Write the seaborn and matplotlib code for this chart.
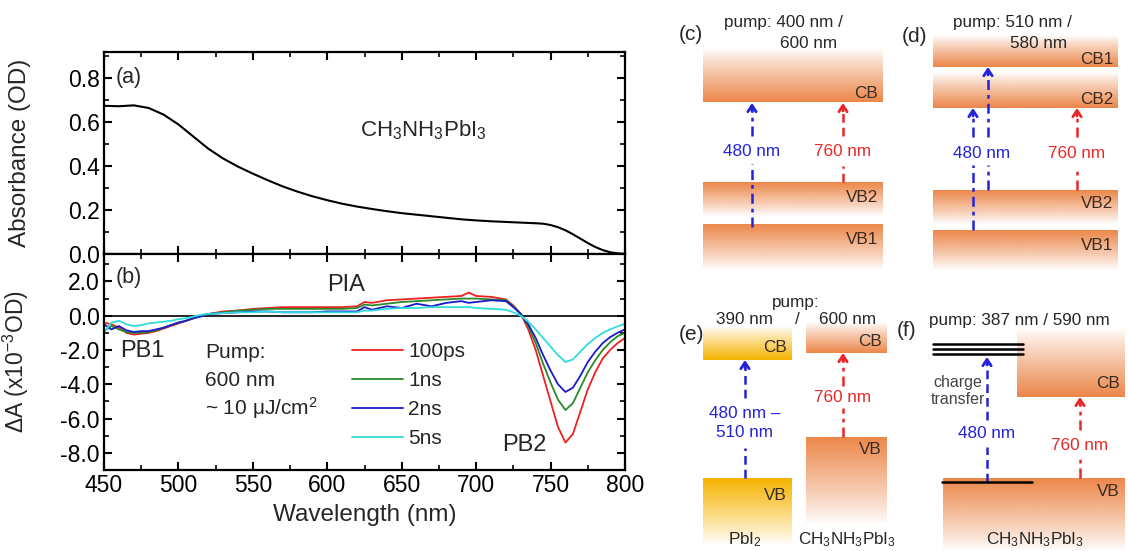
import numpy as np
import pandas as pd
import seaborn as sns
import matplotlib.pyplot as plt
import matplotlib.colors as mcolors
from matplotlib.ticker import MultipleLocator, FormatStrFormatter

sns.set_style('ticks')
plt.rcParams['font.family'] = ['Liberation Sans', 'DejaVu Sans']
plt.rcParams['mathtext.fontset'] = 'custom'
plt.rcParams['mathtext.rm'] = 'Liberation Sans'
plt.rcParams['mathtext.it'] = 'Liberation Sans:italic'
plt.rcParams['axes.unicode_minus'] = False

# (a) steady-state absorbance
wl_abs = [450, 460, 470, 480, 490, 500, 510, 520, 530, 540, 550, 560, 570, 580, 590,
          600, 610, 620, 630, 640, 650, 660, 670, 680, 690, 700, 710, 720, 730, 740,
          745, 750, 755, 760, 765, 770, 775, 780, 785, 790, 795, 800]
absorb = [0.675, 0.673, 0.677, 0.665, 0.635, 0.59, 0.535, 0.48, 0.435, 0.398,
          0.366, 0.336, 0.308, 0.284, 0.263, 0.245, 0.229, 0.216, 0.205, 0.195,
          0.186, 0.179, 0.172, 0.165, 0.158, 0.153, 0.149, 0.146, 0.143, 0.14,
          0.138, 0.132, 0.122, 0.108, 0.09, 0.07, 0.05, 0.032, 0.018, 0.008, 0.003, 0.0]

# (b) transient absorption, x10^-3 OD
wl = [450, 455, 460, 465, 470, 475, 480, 485, 490, 495, 500, 505, 510, 515, 520,
      530, 540, 550, 560, 570, 580, 590, 600, 610, 620, 625, 630,
      640, 650, 660, 670, 680, 690, 695, 700, 710, 720,
      725, 730, 735, 740, 745, 750, 755, 760, 765, 770, 775, 780, 785, 790, 795, 800]
ta_100ps = [-0.4, -0.5, -0.7, -1.0, -1.1, -1.05, -1.0, -0.9, -0.75, -0.6, -0.45, -0.3, -0.15, 0.0, 0.1,
            0.25, 0.3, 0.4, 0.45, 0.5, 0.5, 0.5, 0.5, 0.5, 0.55, 0.8, 0.75,
            0.9, 0.95, 1.0, 1.05, 1.1, 1.15, 1.35, 1.15, 1.1, 0.95,
            0.6, 0.1, -0.8, -2.0, -3.5, -5.0, -6.5, -7.4, -6.9, -5.6, -4.3, -3.3, -2.5, -2.0, -1.6, -1.3]
ta_1ns = [-0.9, -0.6, -0.8, -0.95, -1.0, -1.0, -0.95, -0.85, -0.7, -0.55, -0.4, -0.3, -0.15, 0.0, 0.1,
          0.2, 0.3, 0.35, 0.4, 0.4, 0.4, 0.4, 0.4, 0.4, 0.45, 0.65, 0.6,
          0.7, 0.8, 0.85, 0.9, 0.95, 1.0, 1.0, 1.0, 0.95, 0.9,
          0.55, 0.1, -0.6, -1.6, -2.8, -3.9, -4.9, -5.5, -5.1, -4.2, -3.3, -2.6, -2.0, -1.55, -1.2, -1.0]
ta_2ns = [-0.5, -0.8, -0.6, -0.85, -0.95, -0.9, -0.9, -0.8, -0.7, -0.55, -0.4, -0.3, -0.15, -0.05, 0.1,
          0.15, 0.2, 0.25, 0.25, 0.2, 0.2, 0.2, 0.25, 0.25, 0.25, 0.5, 0.35,
          0.55, 0.45, 0.7, 0.55, 0.75, 0.85, 0.75, 0.8, 0.9, 0.85,
          0.5, 0.1, -0.5, -1.3, -2.3, -3.2, -4.0, -4.45, -4.2, -3.5, -2.7, -2.1, -1.6, -1.25, -1.0, -0.8]
ta_5ns = [-1.0, -0.4, -0.3, -0.5, -0.6, -0.55, -0.45, -0.4, -0.35, -0.3, -0.2, -0.15, -0.05, 0.05, 0.1,
          0.15, 0.2, 0.2, 0.25, 0.2, 0.2, 0.2, 0.2, 0.2, 0.2, 0.3, 0.3,
          0.4, 0.45, 0.45, 0.5, 0.5, 0.5, 0.5, 0.45, 0.4, 0.35,
          0.2, 0.0, -0.35, -0.8, -1.3, -1.8, -2.3, -2.7, -2.55, -2.1, -1.65, -1.3, -1.0, -0.8, -0.62, -0.47]
delays = ['100ps', '1ns', '2ns', '5ns']
delay_colors = ['#ee2020', '#2a8a2a', '#1a1acc', '#30dcdc']

df = pd.DataFrame({
    'wl': wl * 4,
    'dA': ta_100ps + ta_1ns + ta_2ns + ta_5ns,
    'delay': [d for d in delays for _ in wl],
})

W, H = 1128, 551
fig = plt.figure(figsize=(W / 100, H / 100), dpi=100)

def frame(x0, y0, x1, y1):
    # pixel box -> figure fraction rect
    return [x0 / W, 1 - y1 / H, (x1 - x0) / W, (y1 - y0) / H]

ax_a = fig.add_axes(frame(104, 52, 625, 254))
ax_b = fig.add_axes(frame(104, 254, 625, 470), sharex=ax_a)

sns.lineplot(x=wl_abs, y=absorb, ax=ax_a, color='k', lw=1.5)
ax_b.axhline(0, color='k', lw=1.2, zorder=1)
sns.lineplot(data=df, x='wl', y='dA', hue='delay', hue_order=delays,
             palette=dict(zip(delays, delay_colors)), ax=ax_b, lw=1.3, zorder=2)

ax_a.set_xlim(450, 800)
ax_a.set_ylim(0, 0.92)
ax_b.set_ylim(-9.0, 3.6)
ax_a.xaxis.set_major_locator(MultipleLocator(50))
ax_a.xaxis.set_minor_locator(MultipleLocator(25))
ax_a.yaxis.set_major_locator(MultipleLocator(0.2))
ax_a.yaxis.set_minor_locator(MultipleLocator(0.1))
ax_b.yaxis.set_major_locator(MultipleLocator(2))
ax_b.yaxis.set_minor_locator(MultipleLocator(1))
ax_a.yaxis.set_major_formatter(FormatStrFormatter('%.1f'))
ax_b.yaxis.set_major_formatter(FormatStrFormatter('%.1f'))

for ax in (ax_a, ax_b):
    for s in ax.spines.values():
        s.set_linewidth(1.6)
        s.set_color('k')
    ax.tick_params(which='both', direction='in', top=True, right=True, labelsize=16.5,
                   colors='k', pad=3)
    ax.tick_params(which='major', length=6, width=1.5)
    ax.tick_params(which='minor', length=3.5, width=1.2)
    ax.set_xlabel('')
    ax.yaxis.set_label_coords(-0.14, 0.5)
ax_a.tick_params(labelbottom=False)

ax_a.set_ylabel('Absorbance (OD)', fontsize=17.5)
ax_b.set_ylabel(r'ΔA (x10$^{\mathregular{-3}}$OD)', fontsize=16.5)
ax_b.set_xlabel('Wavelength (nm)', fontsize=17.5, labelpad=5)

ax_b.legend(loc='upper left', bbox_to_anchor=(0.476, 0.592), frameon=False, fontsize=15,
            handlelength=2.45, handletextpad=0.25, labelspacing=0.48,
            borderpad=0, borderaxespad=0)

# overlay in pixel coordinates for annotations and the level schemes
ov = fig.add_axes([0, 0, 1, 1])
ov.set_xlim(0, W)
ov.set_ylim(H, 0)
ov.axis('off')

ov.text(116, 78, '(a)', fontsize=15.5, va='center')
ov.text(360, 130, r'CH$_3$NH$_3$PbI$_3$', fontsize=16, va='center')
ov.text(116, 278, '(b)', fontsize=15.5, va='center')
ov.text(346, 285, 'PIA', fontsize=17, va='center', ha='center')
ov.text(120, 351, 'PB1', fontsize=17, va='center')
ov.text(524, 445, 'PB2', fontsize=17, va='center', ha='center')
ov.text(205, 352, 'Pump:', fontsize=15, va='center')
ov.text(205, 380, '600 nm', fontsize=15, va='center')
ov.text(205, 408, r'~ 10 μJ/cm$^2$', fontsize=15, va='center')

ORANGE = '#ec874a'
GOLD = '#f6b400'
BLUE = '#2323d8'
RED = '#e82828'
LBL = '#3a2b22'
FS = 12.3

def band(x0, x1, y_sharp, y_fade, color, label=None, label_y=None):
    rgb = mcolors.to_rgb(color)
    n = 80
    img = np.zeros((n, 1, 4))
    img[..., :3] = rgb
    img[:, 0, 3] = np.linspace(1, 0, n) ** 0.9
    ov.imshow(img, extent=(x0, x1, y_fade, y_sharp), origin='upper',
              aspect='auto', interpolation='bilinear', zorder=1)
    if label:
        ov.text(x1 - 5, label_y, label, fontsize=FS, color=LBL, ha='right', va='center', zorder=3)

def arrow(x, y0, y1, gap0, gap1, color, ls):
    # y0 bottom, y1 top (pixel y grows downward)
    ov.plot([x, x], [y0, gap1], color=color, lw=1.8, ls=ls, zorder=2)
    ov.plot([x, x], [gap0, y1 + 4], color=color, lw=1.8, ls=ls, zorder=2)
    ov.annotate('', xy=(x, y1), xytext=(x, y1 + 8),
                arrowprops=dict(arrowstyle='->,head_length=0.45,head_width=0.3',
                                color=color, lw=2.0, shrinkA=0, shrinkB=0), zorder=3)

DD = (0, (4, 2, 1.5, 2))
DS = (0, (3.5, 2))

# (c)
ov.text(679, 35, '(c)', fontsize=15, va='center')
ov.text(724, 22, 'pump: 400 nm /', fontsize=FS, va='center')
ov.text(780, 44, '600 nm', fontsize=FS, va='center')
band(703, 883, 102, 48, ORANGE, 'CB', 93)
band(703, 883, 182, 216, ORANGE, 'VB2', 197)
band(703, 883, 224, 270, ORANGE, 'VB1', 240)
arrow(752, 227, 103, 136, 164, BLUE, DD)
arrow(843, 182, 103, 136, 166, RED, DS)
ov.text(752, 151, '480 nm', fontsize=FS, color=BLUE, ha='center', va='center')
ov.text(843, 151, '760 nm', fontsize=FS, color=RED, ha='center', va='center')

# (d)
ov.text(902, 37, '(d)', fontsize=15, va='center')
ov.text(953, 22, 'pump: 510 nm /', fontsize=FS, va='center')
ov.text(1010, 44, '580 nm', fontsize=FS, va='center', zorder=4)
band(933, 1118, 67, 35, ORANGE, 'CB1', 59)
band(933, 1118, 108, 72, ORANGE, 'CB2', 99)
band(933, 1118, 190, 224, ORANGE, 'VB2', 203)
band(933, 1118, 230, 270, ORANGE, 'VB1', 246)
arrow(973, 230, 108, 137, 165, BLUE, DD)
arrow(988, 190, 67, 137, 165, BLUE, DD)
arrow(1077, 190, 108, 137, 168, RED, DD)
ov.text(982, 153, '480 nm', fontsize=FS, color=BLUE, ha='center', va='center')
ov.text(1077, 153, '760 nm', fontsize=FS, color=RED, ha='center', va='center')

# (e)
ov.text(679, 335, '(e)', fontsize=15, va='center')
ov.text(796, 302, 'pump:', fontsize=FS, va='center', ha='center')
ov.text(744, 320, '390 nm', fontsize=FS, va='center', ha='center')
ov.text(797, 320, '/', fontsize=FS, va='center', ha='center')
ov.text(848, 320, '600 nm', fontsize=FS, va='center', ha='center')
band(703, 792, 360, 326, GOLD, 'CB', 347)
band(703, 792, 478, 545, GOLD, 'VB', 495)
band(806, 887, 353, 322, ORANGE, 'CB', 341)
band(806, 887, 437, 525, ORANGE, 'VB', 450)
arrow(745, 478, 360, 398, 448, BLUE, DS)
arrow(843, 437, 353, 386, 408, RED, DD)
ov.text(745, 423, '480 nm –\n510 nm', fontsize=FS, color=BLUE, ha='center', va='center',
        linespacing=1.3)
ov.text(843, 398, '760 nm', fontsize=FS, color=RED, ha='center', va='center')
ov.text(745, 540, r'PbI$_2$', fontsize=FS, ha='center', va='center')
ov.text(847, 540, r'CH$_3$NH$_3$PbI$_3$', fontsize=FS, ha='center', va='center')

# (f)
ov.text(897, 330, '(f)', fontsize=15, va='center')
ov.text(929, 320, 'pump: 387 nm / 590 nm', fontsize=FS, va='center')
band(1017, 1125, 397, 328, ORANGE, 'CB', 383)
band(943, 1125, 478, 551, ORANGE, 'VB', 491)
for yl in (344, 349, 354):
    ov.plot([933, 1023], [yl, yl], color='k', lw=1.8, zorder=3)
ov.plot([942, 1032], [482, 482], color='k', lw=1.8, zorder=3)
arrow(987, 482, 357, 420, 447, BLUE, DS)
arrow(1080, 478, 397, 430, 458, RED, DD)
ov.text(958, 391, 'charge\ntransfer', fontsize=11.5, color='#444444', ha='center', va='center',
        linespacing=1.1)
ov.text(987, 433, '480 nm', fontsize=FS, color=BLUE, ha='center', va='center')
ov.text(1080, 445, '760 nm', fontsize=FS, color=RED, ha='center', va='center')
ov.text(1035, 540, r'CH$_3$NH$_3$PbI$_3$', fontsize=FS, ha='center', va='center')

fig.savefig('out.png', dpi=100)
